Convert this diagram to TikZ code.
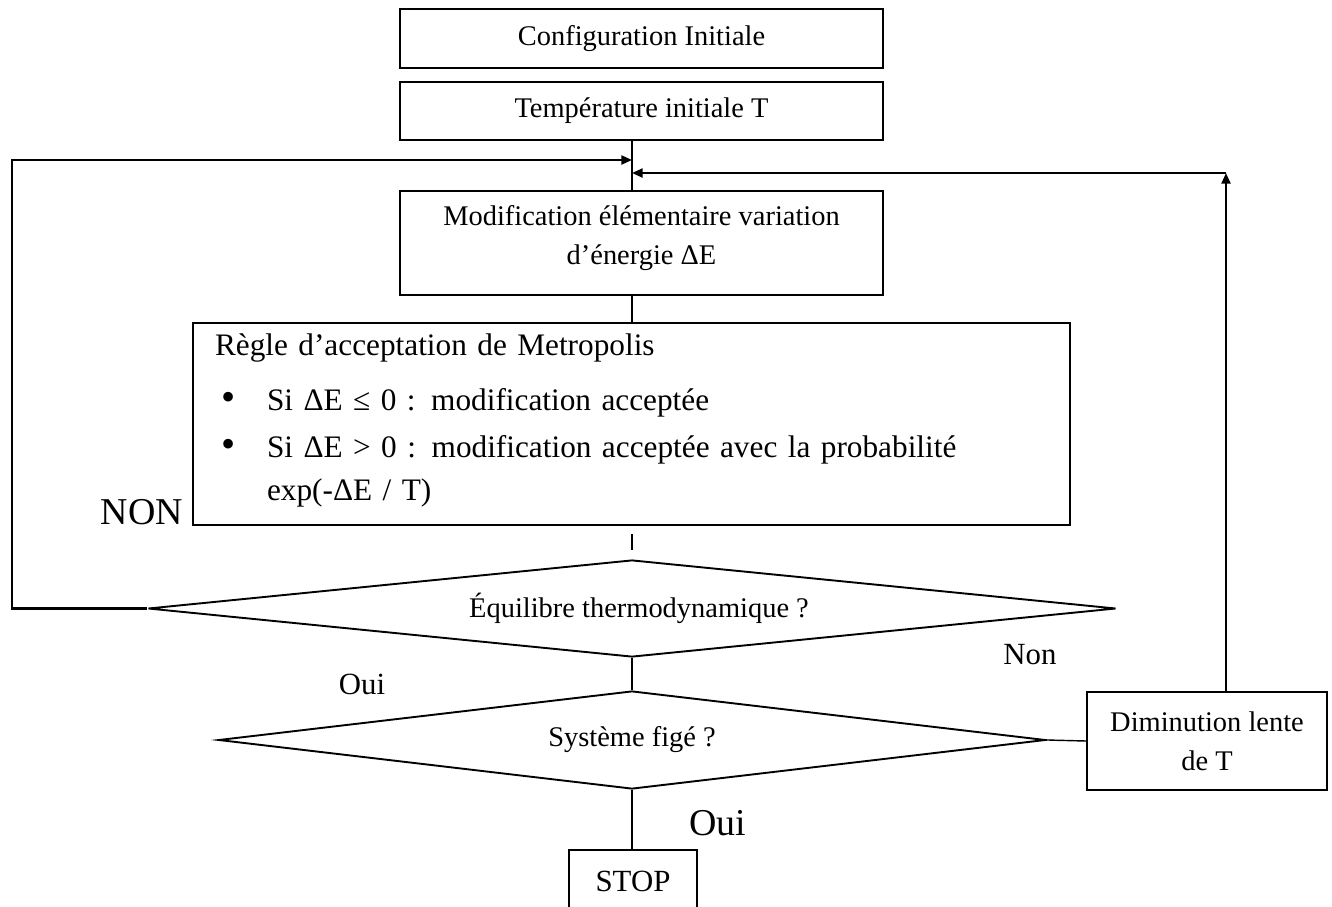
\documentclass[tikz,border=0pt]{standalone}
\usepackage{fontspec}
\setmainfont{Liberation Serif}
\usetikzlibrary{shapes.geometric,arrows.meta,calc}
\newdimen\upx \upx=0.4219pt
\newcommand\bulletmark{\makebox[52\upx][l]{\hspace*{6\upx}{\fontsize{17}{17}\selectfont•}}}
\begin{document}
\begin{tikzpicture}[x=0.4219pt,y=-0.4219pt,
  box/.style={draw, rectangle, line width=0.8pt, inner sep=0pt, align=center,
    font=\fontsize{12}{16.5}\selectfont},
  decision/.style={draw, diamond, aspect=10, inner sep=0pt, line width=0.8pt,
    font=\fontsize{12}{14}\selectfont},
  conn/.style={line width=0.6pt},
  flow/.style={line width=0.9pt, -{Triangle[length=4.5pt,width=3.8pt]}},
  tag/.style={inner sep=0pt, font=\fontsize{13}{15}\selectfont}]
\useasboundingbox (0,0) rectangle (1332,906);

% vertical axis of the main flow
\coordinate (axis) at (632,0);

% boxes
\node[box, minimum width=483\upx, minimum height=59\upx] (cfg) at (641.5,38.5) {Configuration Initiale};
\node[box, minimum width=483\upx, minimum height=58\upx] (temp) at (641.5,111) {Température initiale T};
\node[box, minimum width=483\upx, minimum height=104\upx] (modif) at (641.5,243)
  {Modification élémentaire variation\\d’énergie ΔE\rule[-7pt]{0pt}{0pt}};
\node[box, minimum height=202\upx, text width=833\upx, inner xsep=22\upx, align=left,
  font=\fontsize{13.2}{18.5}\selectfont] (rule) at (631.5,424)
  {Règle d’acceptation de Metropolis\\[4.6pt]
   \bulletmark Si ΔE ≤ 0 : modification acceptée\\[1.4pt]
   \bulletmark Si ΔE > 0 : modification acceptée avec la probabilité\\[-0.3pt]
   \hspace*{52\upx}exp(-ΔE / T)\rule[-5.9pt]{0pt}{0pt}};

% decisions
\node[decision, minimum width=968\upx, minimum height=97\upx,
  label={[xshift=7\upx, font=\fontsize{12}{14}\selectfont]center:Équilibre thermodynamique ?}]
  (d1) at (632,608.5) {};
\node[decision, minimum width=827\upx, minimum height=98\upx] (d2) at (632,740) {Système figé ?};

% temperature decrease and end
\node[box, minimum width=240\upx, minimum height=98\upx] (dim) at (1207,741) {Diminution lente\\de T};
\node[inner sep=0pt, minimum width=127\upx, minimum height=62\upx, anchor=north,
  font=\fontsize{13}{15}\selectfont] (stop) at (633,850) {STOP};
\draw[line width=0.8pt] (stop.south west) |- (stop.north east) -- (stop.south east);

% straight connectors
\draw[conn] (temp.south -| axis) -- (modif.north -| axis);
\draw[conn] (modif.south -| axis) -- (rule.north -| axis);
\draw[conn, shorten <=8\upx, shorten >=9\upx] (rule.south -| d1.north) -- (d1.north);
\draw[conn] (d1.south) -- (d2.north);
\draw[conn] (d2.south) -- (d2.south |- stop.north);
\draw[conn, shorten <=3\upx] (d2.east) -- (dim.west);

% feedback loops
\coordinate (loopL) at (12,160);
\coordinate (loopR) at (1226,173);
\draw[flow] (d1.west) -| (loopL) -- (loopL -| axis);
\draw[flow] (dim.north -| loopR) -- (loopR);
\draw[flow] (loopR) -- (loopR -| axis);

% branch labels
\node[tag, font=\fontsize{16}{18}\selectfont] (tNON) at (142,512) {NON};
\node[tag] (tNon) at (1030,655) {Non};
\node[tag] (tOui) at (362,684) {Oui};
\node[tag, font=\fontsize{16}{18}\selectfont] (tOuiB) at (718,823) {Oui};
\end{tikzpicture}
\end{document}
